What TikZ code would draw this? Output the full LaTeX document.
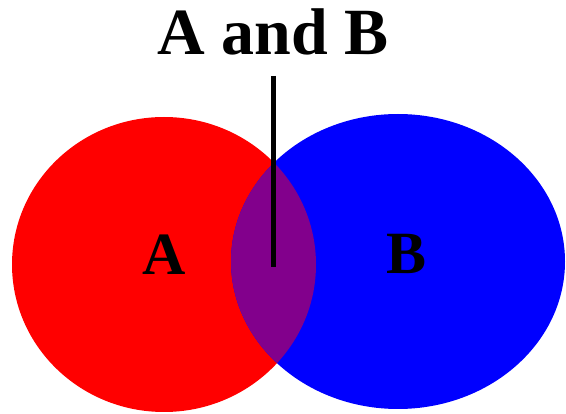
\documentclass[tikz,border=0pt]{standalone}
\usepackage{fontspec}
\setmainfont{Liberation Serif}
\usetikzlibrary{positioning}

\definecolor{rosso}{RGB}{255,0,0}
\definecolor{blu}{RGB}{0,0,255}
\definecolor{viola}{RGB}{130,0,140}

\begin{document}
\begin{tikzpicture}[
  x=1pt, y=-1pt,
  titolo/.style={inner sep=0pt, anchor=base, font=\fontsize{66}{66}\selectfont\bfseries},
  etichetta/.style={inner sep=0pt, font=\fontsize{60}{60}\selectfont\bfseries},
  indicatore/.style={draw=black, line width=5pt}
]

% Riquadro fissato sulle misure del disegno (in pixel, y verso il basso)
\useasboundingbox (0,0) rectangle (566,414);

% ---- insiemi ---------------------------------------------------------
\fill[rosso] (164,264.5) ellipse [x radius=152pt, y radius=147.5pt];
\fill[blu]   (398,261.5) ellipse [x radius=167pt, y radius=147.5pt];
\begin{scope}                                        % intersezione
  \clip (164,264.5) ellipse [x radius=152pt, y radius=147.5pt];
  \fill[viola] (398,261.5) ellipse [x radius=167pt, y radius=147.5pt];
\end{scope}

% ---- etichette -------------------------------------------------------
\node[etichetta] (insA) at (164,254.5) {A};
\node[etichetta] (insB) at (407,254)   {B};
\node[titolo]    (titolo) at (273,55)  {A and B};

% ---- indicatore dell'intersezione ------------------------------------
\coordinate (incrocio) at (273,267);
\draw[indicatore] ([yshift=-20pt]titolo.south) -- (incrocio);

\end{tikzpicture}
\end{document}
